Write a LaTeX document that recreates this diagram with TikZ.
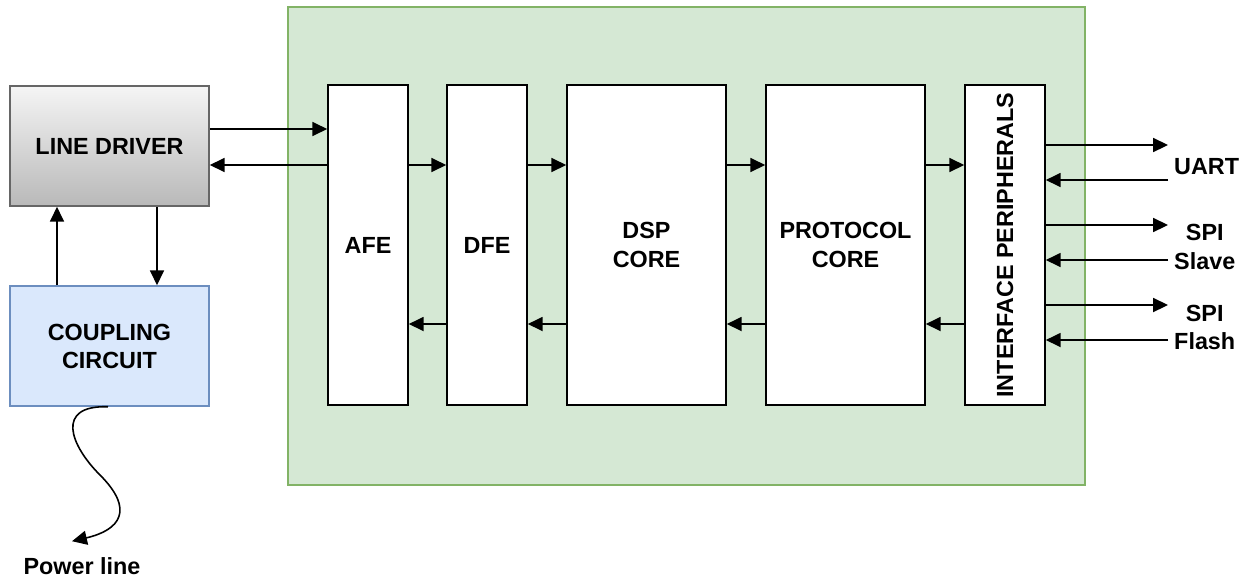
\documentclass[tikz,border=0pt]{standalone}
\usepackage{fontspec}
\setmainfont{Liberation Sans}
\usepackage{xcolor}
\usepackage{tikz}
\usetikzlibrary{arrows.meta, positioning}
\definecolor{SocGreen}{HTML}{D5E8D4}
\definecolor{SocGreenLine}{HTML}{82B366}
\definecolor{CoupBlue}{HTML}{DAE8FC}
\definecolor{CoupBlueLine}{HTML}{6C8EBF}
\definecolor{DrvGrey}{HTML}{666666}
\tikzset{
  blk/.style={draw=black, line width=0.9pt, fill=white, minimum height=6.4cm, inner sep=0pt},
  lbl/.style={font=\fontsize{13.3}{16}\selectfont\bfseries, align=center},
  arr/.style={-{Triangle[length=8.5pt,width=8pt]}, line width=0.9pt}
}

\begin{document}
\begin{tikzpicture}[x=0.02cm, y=-0.02cm]
      \useasboundingbox (0,0) rectangle (1246,579);
      % SoC area
      \node[draw=SocGreenLine, fill=SocGreen, line width=0.9pt, minimum width=15.94cm, minimum height=9.56cm] (soc) at (686.5,246) {};
      
      \node[draw=DrvGrey, top color=gray!8, bottom color=gray!55, line width=0.9pt, minimum width=3.98cm, minimum height=2.4cm, lbl] (drv) at (109.5,146) {LINE DRIVER};
      \node[draw=CoupBlueLine, fill=CoupBlue, line width=0.9pt, minimum width=3.98cm, minimum height=2.4cm, lbl] (coup) at (109.5,346) {COUPLING\\CIRCUIT};
      
      \node[blk, minimum width=1.6cm, lbl] (afe) at (368,245) {AFE};
      \node[blk, minimum width=1.6cm, lbl] (dfe) at (487,245) {DFE};
      \node[blk, minimum width=3.18cm, lbl] (dsp) at (646.5,245) {DSP\\CORE};
      \node[blk, minimum width=3.18cm, lbl] (prot) at (845.5,245) {PROTOCOL\\CORE};
      \node[blk, minimum width=1.6cm] (ifp) at (1005,245) {};
      \node[lbl, rotate=90] at (ifp.center) {INTERFACE PERIPHERALS};
      
      \node[lbl, anchor=west] (uart) at (1168,167) {UART};
      \node[lbl, anchor=west] (spis) at (1168,247) {SPI\\Slave};
      \node[lbl, anchor=west] (spif) at (1168,327) {SPI\\Flash};
      \node[lbl] (pwr) at (82,566) {Power line};
      
      % line driver <-> AFE
      \draw[arr] (drv.east |- 0,129) -- (afe.west |- 0,129);
      \draw[arr] (afe.west |- 0,165) -- (drv.east |- 0,165);
      \draw[arr] (drv.south -| 157,0) -- (coup.north -| 157,0);
      \draw[arr] (coup.north -| 57,0) -- (drv.south -| 57,0);
      
      % receive and transmit chains
      \foreach \a/\b in {afe/dfe, dfe/dsp, dsp/prot, prot/ifp}{
        \draw[arr] (\a.east |- 0,165) -- (\b.west |- 0,165);
        \draw[arr] (\b.west |- 0,324) -- (\a.east |- 0,324);
      }
      
      % host interfaces
      \foreach \o/\i/\n in {145/180/uart, 225/260/spis, 305/340/spif}{
        \draw[arr] (ifp.east |- 0,\o) -- (\n.west |- 0,\o);
        \draw[arr] (\n.west |- 0,\i) -- (ifp.east |- 0,\i);
      }
      
      \draw[arr] (coup.south -| 108,0) .. controls (55,405) and (70,445) .. (100,475)
        .. controls (135,510) and (120,530) .. ([shift={(-10,-10)}]pwr.north);
    \end{tikzpicture}
\end{document}
